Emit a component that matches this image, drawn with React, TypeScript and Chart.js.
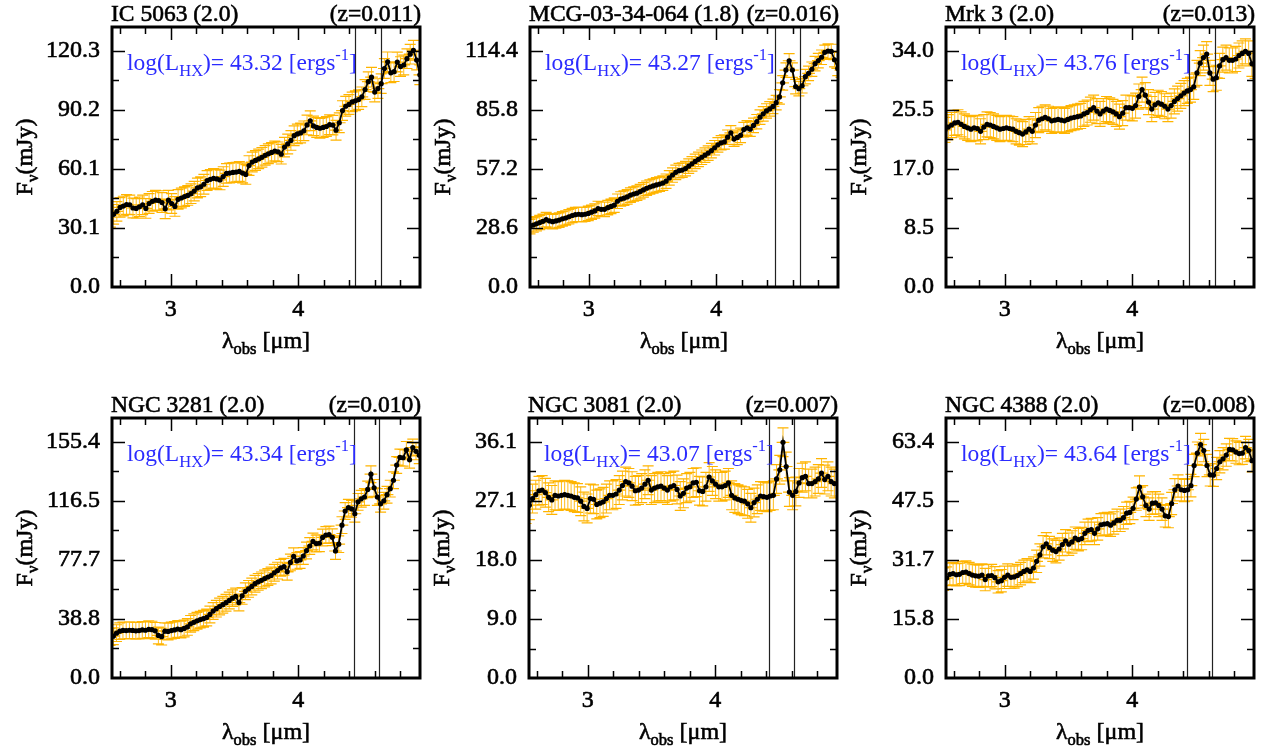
import React, { useEffect, useRef } from "react";
import { Chart, registerables } from "chart.js";

Chart.register(...registerables);

// ---------------- data ----------------
const LAMBDA_REST = [
  2.500, 2.525, 2.550, 2.575, 2.600, 2.625, 2.650, 2.675, 2.700, 2.725,
  2.750, 2.775, 2.800, 2.825, 2.850, 2.875, 2.900, 2.925, 2.950, 2.975,
  3.000, 3.025, 3.050, 3.075, 3.100, 3.125, 3.150, 3.175, 3.200, 3.225,
  3.250, 3.275, 3.300, 3.325, 3.350, 3.375, 3.400, 3.425, 3.450, 3.475,
  3.500, 3.525, 3.550, 3.575, 3.600, 3.625, 3.650, 3.675, 3.700, 3.725,
  3.750, 3.775, 3.800, 3.825, 3.850, 3.875, 3.900, 3.925, 3.950, 3.975,
  4.000, 4.025, 4.050, 4.075, 4.100, 4.125, 4.150, 4.175, 4.200, 4.225,
  4.250, 4.275, 4.300, 4.325, 4.350, 4.375, 4.400, 4.425, 4.450, 4.475,
  4.500, 4.525, 4.550, 4.575, 4.600, 4.625, 4.650, 4.675, 4.700, 4.725,
  4.750, 4.775, 4.800, 4.825, 4.850, 4.875, 4.900,
];

const NAMES = ["IC 5063 (2.0)", "MCG-03-34-064 (1.8)", "Mrk 3 (2.0)", "NGC 3281 (2.0)", "NGC 3081 (2.0)", "NGC 4388 (2.0)"];
const REDSHIFTS = [0.011, 0.016, 0.013, 0.010, 0.007, 0.008];
const LOG_LHX = ["43.32", "43.27", "43.76", "43.34", "43.07", "43.64"];

const FLUX_IC5063 = [
  35.5, 37.0, 38.5, 40.5, 41.2, 42.0, 41.8, 40.2, 40.0, 40.8,
  41.8, 40.0, 42.5, 43.6, 44.2, 44.0, 43.0, 39.8, 44.2, 42.5,
  41.0, 44.6, 45.3, 46.0, 46.6, 47.5, 48.8, 50.4, 51.0, 52.3,
  54.2, 54.8, 55.3, 55.0, 54.5, 56.2, 57.8, 58.0, 58.3, 58.5,
  58.8, 58.0, 57.3, 61.8, 63.6, 64.4, 65.2, 66.0, 67.0, 67.8,
  68.5, 69.2, 68.8, 67.6, 71.2, 72.8, 74.6, 77.0, 77.9, 78.4,
  79.5, 82.5, 84.6, 82.0, 81.2, 80.8, 81.2, 81.7, 82.6, 82.4,
  79.8, 83.6, 89.8, 92.0, 92.9, 94.2, 94.8, 95.4, 96.8, 100.5,
  104.5, 106.8, 99.2, 101.0, 103.5, 111.2, 114.6, 109.0, 109.6, 114.5,
  112.2, 113.0, 116.2, 118.5, 120.5, 115.5, 108.0,
];
const FLUX_MCG0334064 = [
  29.2, 30.0, 30.6, 31.2, 31.8, 32.6, 32.0, 31.6, 32.0, 32.4,
  33.0, 33.4, 34.0, 34.6, 35.0, 35.2, 35.0, 35.2, 35.6, 36.2,
  36.8, 38.0, 37.6, 37.6, 38.4, 39.0, 39.6, 41.5, 42.6, 43.0,
  43.6, 44.5, 45.0, 45.4, 46.2, 47.0, 47.8, 48.4, 48.9, 49.4,
  49.8, 50.3, 51.2, 52.8, 54.2, 55.5, 56.3, 56.6, 57.3, 58.5,
  59.6, 60.8, 61.8, 62.8, 63.8, 64.8, 66.0, 67.4, 68.8, 69.8,
  70.2, 72.5, 74.6, 71.6, 72.4, 73.4, 76.2, 77.0, 76.4, 78.2,
  80.0, 82.2, 83.8, 85.2, 86.2, 87.4, 89.2, 92.0, 98.8, 105.0,
  109.5, 105.0, 97.0, 96.0, 97.4, 101.8, 103.4, 105.4, 108.1, 109.6,
  111.2, 113.6, 114.2, 114.0, 110.0, 105.8, 105.0,
];
const FLUX_MRK3 = [
  22.6, 23.0, 23.3, 23.6, 23.7, 23.4, 23.1, 22.9, 22.7, 22.9,
  22.8, 22.4, 23.0, 23.4, 23.3, 23.1, 22.9, 22.7, 22.8, 22.9,
  22.8, 22.7, 22.4, 22.2, 22.0, 22.3, 22.7, 22.4, 23.3, 24.0,
  24.2, 24.4, 24.2, 23.9, 24.0, 24.1, 24.0, 23.9, 24.1, 24.3,
  24.4, 24.5, 24.6, 24.9, 25.1, 25.5, 25.8, 25.3, 24.9, 25.3,
  25.6, 25.4, 25.2, 24.9, 24.5, 25.0, 25.8, 25.8, 25.7, 26.1,
  27.4, 28.4, 27.6, 26.6, 25.6, 26.2, 26.5, 26.3, 26.0, 25.6,
  26.1, 26.7, 27.1, 27.5, 27.9, 28.2, 28.4, 28.8, 30.8, 32.2,
  33.0, 33.5, 30.8, 29.9, 30.1, 31.8, 32.7, 33.0, 32.6, 32.6,
  32.8, 33.3, 33.6, 33.9, 33.6, 32.1, 31.8,
];
const FLUX_NGC3281 = [
  27.0, 27.5, 29.5, 30.8, 31.3, 31.2, 31.4, 31.3, 31.0, 31.2,
  31.6, 31.4, 32.0, 31.8, 31.0, 28.0, 27.2, 30.8, 30.6, 31.2,
  31.6, 32.2, 31.8, 32.6, 33.6, 35.6, 36.6, 37.6, 38.4, 39.0,
  39.8, 41.8, 44.0, 45.6, 47.0, 48.2, 49.5, 51.0, 52.5, 53.6,
  49.6, 54.0, 57.0, 58.6, 60.2, 62.0, 63.2, 64.2, 65.4, 66.4,
  67.4, 69.2, 70.6, 72.4, 73.2, 69.8, 76.0, 80.0, 77.0, 77.6,
  80.2, 83.8, 86.8, 89.8, 88.4, 88.6, 92.4, 94.0, 94.3, 92.5,
  83.5, 88.0, 100.5, 109.8, 112.0, 111.2, 108.0, 115.8, 117.8, 119.0,
  124.0, 134.0, 125.0, 119.0, 114.5, 116.5, 120.5, 124.5, 130.0, 140.0,
  145.0, 144.8, 150.0, 143.5, 151.5, 149.0, 146.5,
];
const FLUX_NGC3081 = [
  25.8, 26.4, 27.4, 28.0, 28.6, 28.7, 28.3, 27.6, 27.2, 27.9,
  27.8, 27.9, 28.0, 27.9, 27.8, 27.6, 27.5, 27.0, 26.2, 25.9,
  27.4, 27.3, 26.5, 26.7, 26.9, 27.4, 27.9, 27.9, 28.1, 28.7,
  29.4, 30.0, 29.8, 29.3, 28.6, 28.7, 29.0, 29.6, 30.2, 28.7,
  29.0, 29.2, 29.3, 29.0, 28.7, 29.2, 29.4, 28.8, 27.8, 28.2,
  29.0, 29.2, 29.8, 29.9, 28.6, 28.5, 29.2, 30.7, 30.1, 29.6,
  29.2, 29.2, 29.4, 29.8, 27.9, 27.5, 27.3, 27.1, 27.0, 26.6,
  26.0, 26.8, 27.3, 27.8, 27.7, 27.6, 27.8, 27.9, 30.4, 31.8,
  36.0, 32.3, 28.4, 27.9, 28.5, 29.8, 30.6, 30.8, 29.7, 29.7,
  30.0, 30.4, 31.3, 30.3, 30.8, 30.0, 29.7,
];
const FLUX_NGC4388 = [
  26.5, 26.8, 27.8, 28.0, 27.7, 27.8, 28.3, 28.4, 28.0, 27.6,
  27.4, 27.3, 27.6, 26.4, 27.4, 27.5, 26.9, 25.8, 26.1, 27.0,
  27.6, 27.0, 27.1, 27.5, 28.0, 28.6, 29.0, 28.6, 29.5, 31.3,
  33.0, 35.2, 36.0, 35.0, 34.3, 33.9, 34.6, 35.8, 36.8, 35.9,
  36.5, 37.5, 37.1, 37.4, 38.8, 39.6, 39.8, 38.8, 40.0, 41.1,
  41.3, 41.4, 41.0, 41.6, 42.3, 42.3, 43.0, 44.2, 44.4, 45.5,
  48.0, 51.2, 48.6, 46.3, 45.3, 46.9, 47.0, 46.3, 45.3, 43.5,
  43.3, 46.8, 50.5, 51.5, 50.5, 50.3, 50.5, 51.6, 57.0, 60.3,
  62.6, 61.0, 57.0, 54.5, 54.4, 56.2, 58.0, 58.8, 59.8, 61.3,
  61.2, 60.6, 60.2, 60.3, 61.8, 61.0, 58.3,
];

// flux errors (mJy), one per panel
const FLUX_ERRORS = [5.0, 3.5, 1.8, 5.5, 2.2, 3.0];
const LAMBDA_ERROR = 0.05;

const YTICKS_IC5063 = [0, 30.1, 60.1, 90.2, 120.3];
const YTICKS_MCG0334064 = [0, 28.6, 57.2, 85.8, 114.4];
const YTICKS_MRK3 = [0, 8.5, 17.0, 25.5, 34.0];
const YTICKS_NGC3281 = [0, 38.8, 77.7, 116.5, 155.4];
const YTICKS_NGC3081 = [0, 9.0, 18.0, 27.1, 36.1];
const YTICKS_NGC4388 = [0, 15.8, 31.7, 47.5, 63.4];

const X_MIN = 2.54;
const X_MAX = 4.955;
const X_TICKS_MAJOR = [3, 4];
const X_TICKS_MINOR = [2.6, 2.8, 3.2, 3.4, 3.6, 3.8, 4.2, 4.4, 4.6, 4.8];

// observed wavelengths of the two vertical marker lines per panel
const MARKER_LINES = [
  [4.446, 4.650],
  [4.462, 4.658],
  [4.448, 4.650],
  [4.440, 4.636],
  [4.425, 4.621],
  [4.428, 4.624],
];

const FLUXES = [FLUX_IC5063, FLUX_MCG0334064, FLUX_MRK3, FLUX_NGC3281, FLUX_NGC3081, FLUX_NGC4388];
const YTICKS = [YTICKS_IC5063, YTICKS_MCG0334064, YTICKS_MRK3, YTICKS_NGC3281, YTICKS_NGC3081, YTICKS_NGC4388];

// ---------------- layout / style ----------------
const FRAMES = [
  { left: 112, top: 27 },
  { left: 530, top: 27 },
  { left: 946, top: 27 },
  { left: 112, top: 418 },
  { left: 529, top: 418 },
  { left: 946, top: 418 },
];
const FW = 308;
const FH = 260;
const PAD_L = 110;
const PAD_T = 27;
const PAD_R = 14;
const PAD_B = 76;
const CW = PAD_L + FW + PAD_R;
const CH = PAD_T + FH + PAD_B;

const FONT = '"Liberation Serif", "Times New Roman", serif';
const FS = 23.5;
const FS_TICK = 24;
const FS_SMALL = 16.5;
const ORANGE = "#FFB400";
const BLUE = "#2B2BFF";
const TEXT_STROKE = 0.6;

type Part = { t: string; s: number; dy: number };

function richWidth(ctx: CanvasRenderingContext2D, parts: Part[]) {
  let w = 0;
  for (const p of parts) {
    ctx.font = `${p.s}px ${FONT}`;
    w += ctx.measureText(p.t).width;
  }
  return w;
}
function drawRich(ctx: CanvasRenderingContext2D, x: number, y: number, parts: Part[], stroke: number) {
  let cx = x;
  for (const p of parts) {
    ctx.font = `${p.s}px ${FONT}`;
    ctx.fillText(p.t, cx, y + p.dy);
    if (stroke > 0) {
      ctx.lineWidth = stroke;
      ctx.strokeText(p.t, cx, y + p.dy);
    }
    cx += ctx.measureText(p.t).width;
  }
}

function Panel({ idx }: { idx: number }) {
  const ref = useRef<HTMLCanvasElement>(null);
  useEffect(() => {
    const canvas = ref.current!;
    const z = REDSHIFTS[idx];
    const flux = FLUXES[idx];
    const lambda = LAMBDA_REST.map((l) => l * (1 + z));
    const yTicks = YTICKS[idx];
    const yTop = yTicks[yTicks.length - 1];
    const yMax = yTop * 1.1;
    const err = FLUX_ERRORS[idx];
    const lines = MARKER_LINES[idx];

    const decor = {
      id: "decor" + idx,
      beforeDatasetsDraw(chart: any) {
        const { ctx, chartArea: a, scales } = chart;
        const xs = scales.x;
        const ys = scales.y;
        ctx.save();
        ctx.beginPath();
        ctx.rect(a.left, a.top, a.right - a.left, a.bottom - a.top);
        ctx.clip();
        ctx.strokeStyle = ORANGE;
        const cap = 5.5;
        // vertical parts of the flux error bars
        ctx.lineWidth = 0.9;
        ctx.beginPath();
        lambda.forEach((l, i) => {
          const v = flux[i];
          const px = xs.getPixelForValue(l);
          ctx.moveTo(px, ys.getPixelForValue(v + err));
          ctx.lineTo(px, ys.getPixelForValue(v - err));
        });
        ctx.stroke();
        // caps and wavelength error bars
        ctx.lineWidth = 1.2;
        ctx.beginPath();
        lambda.forEach((l, i) => {
          const v = flux[i];
          const px = xs.getPixelForValue(l);
          const py = ys.getPixelForValue(v);
          const y1 = ys.getPixelForValue(v + err);
          const y2 = ys.getPixelForValue(v - err);
          const x1 = xs.getPixelForValue(l - LAMBDA_ERROR);
          const x2 = xs.getPixelForValue(l + LAMBDA_ERROR);
          ctx.moveTo(px - cap, y1);
          ctx.lineTo(px + cap, y1);
          ctx.moveTo(px - cap, y2);
          ctx.lineTo(px + cap, y2);
          ctx.moveTo(x1, py);
          ctx.lineTo(x2, py);
        });
        ctx.stroke();
        ctx.strokeStyle = "#222";
        ctx.lineWidth = 1.2;
        ctx.beginPath();
        for (const l of lines) {
          const px = Math.round(xs.getPixelForValue(l)) + 0.5;
          ctx.moveTo(px, a.top);
          ctx.lineTo(px, a.bottom);
        }
        ctx.stroke();
        ctx.restore();
      },
      afterDraw(chart: any) {
        const { ctx, chartArea: a, scales } = chart;
        const xs = scales.x;
        const ys = scales.y;
        ctx.save();
        // ticks (inward, all four sides)
        ctx.strokeStyle = "#000";
        ctx.lineWidth = 1.5;
        ctx.beginPath();
        const major = 13;
        const minor = 7;
        const xt = [
          ...X_TICKS_MAJOR.map((v) => [v, major]),
          ...X_TICKS_MINOR.map((v) => [v, minor]),
        ];
        for (const [v, len] of xt) {
          const px = Math.round(xs.getPixelForValue(v)) + 0.5;
          ctx.moveTo(px, a.bottom);
          ctx.lineTo(px, a.bottom - len);
          ctx.moveTo(px, a.top);
          ctx.lineTo(px, a.top + len);
        }
        const yt: number[][] = [];
        for (let i = 1; i < yTicks.length; i++) yt.push([yTicks[i], major]);
        for (let i = 0; i < yTicks.length - 1; i++) yt.push([(yTicks[i] + yTicks[i + 1]) / 2, minor]);
        for (const [v, len] of yt) {
          const py = Math.round(ys.getPixelForValue(v)) + 0.5;
          ctx.moveTo(a.left, py);
          ctx.lineTo(a.left + len, py);
          ctx.moveTo(a.right, py);
          ctx.lineTo(a.right - len, py);
        }
        ctx.stroke();
        // frame
        ctx.lineWidth = 3;
        ctx.strokeRect(a.left, a.top, a.right - a.left, a.bottom - a.top);

        // titles
        ctx.fillStyle = "#000";
        ctx.strokeStyle = "#000";
        ctx.textBaseline = "alphabetic";
        ctx.font = `${FS}px ${FONT}`;
        ctx.lineWidth = TEXT_STROKE;
        ctx.textAlign = "left";
        ctx.fillText(NAMES[idx], a.left - 1, a.top - 6);
        ctx.strokeText(NAMES[idx], a.left - 1, a.top - 6);
        ctx.textAlign = "right";
        const zText = `(z=${z.toFixed(3)})`;
        ctx.fillText(zText, a.right + 1, a.top - 6);
        ctx.strokeText(zText, a.right + 1, a.top - 6);
        ctx.textAlign = "left";

        // annotation
        ctx.fillStyle = BLUE;
        drawRich(
          ctx,
          a.left + 15,
          a.top + 43,
          [
            { t: "log(L", s: FS, dy: 0 },
            { t: "HX", s: FS_SMALL, dy: 6 },
            { t: `)= ${LOG_LHX[idx]} [ergs`, s: FS, dy: 0 },
            { t: "-1", s: FS_SMALL, dy: -10 },
            { t: "]", s: FS, dy: 0 },
          ],
          0
        );

        // axis titles
        ctx.fillStyle = "#000";
        ctx.strokeStyle = "#000";
        const xParts: Part[] = [
          { t: "λ", s: FS_TICK, dy: 0 },
          { t: "obs", s: FS_SMALL, dy: 6 },
          { t: " [μm]", s: FS_TICK, dy: 0 },
        ];
        const xw = richWidth(ctx, xParts);
        drawRich(ctx, (a.left + a.right) / 2 - xw / 2, a.bottom + 61, xParts, TEXT_STROKE);

        const yParts: Part[] = [
          { t: "F", s: FS_TICK, dy: 0 },
          { t: "ν", s: FS_SMALL, dy: 6 },
          { t: "(mJy)", s: FS_TICK, dy: 0 },
        ];
        const yw = richWidth(ctx, yParts);
        ctx.translate(a.left - 80, (a.top + a.bottom) / 2);
        ctx.rotate(-Math.PI / 2);
        drawRich(ctx, -yw / 2, 0, yParts, TEXT_STROKE);
        ctx.restore();
      },
    };

    const chart = new Chart(canvas, {
      type: "line",
      data: {
        datasets: [
          {
            data: lambda.map((l, i) => ({ x: l, y: flux[i] })),
            borderColor: "#000",
            borderWidth: 1.8,
            pointRadius: 2.6,
            pointBackgroundColor: "#000",
            pointBorderWidth: 0,
            pointHoverRadius: 2.6,
            tension: 0,
            clip: 0,
          } as any,
        ],
      },
      options: {
        responsive: false,
        animation: false,
        devicePixelRatio: 1,
        events: [],
        layout: { padding: { left: 0, top: PAD_T, right: PAD_R, bottom: 0 } },
        plugins: { legend: { display: false }, tooltip: { enabled: false } },
        scales: {
          x: {
            type: "linear",
            min: X_MIN,
            max: X_MAX,
            grid: { display: false, drawTicks: false },
            border: { display: false },
            afterFit: (s: any) => {
              s.height = PAD_B;
            },
            afterBuildTicks: (s: any) => {
              s.ticks = X_TICKS_MAJOR.map((v) => ({ value: v }));
            },
            ticks: {
              autoSkip: false,
              maxRotation: 0,
              padding: 8,
              color: "#000",
              textStrokeColor: "#000",
              textStrokeWidth: TEXT_STROKE,
              font: { family: FONT, size: FS_TICK },
              callback: (v: any) => String(v),
            },
          },
          y: {
            type: "linear",
            min: 0,
            max: yMax,
            grid: { display: false, drawTicks: false },
            border: { display: false },
            afterFit: (s: any) => {
              s.width = PAD_L;
            },
            afterBuildTicks: (s: any) => {
              s.ticks = yTicks.map((v) => ({ value: v }));
            },
            ticks: {
              autoSkip: false,
              padding: 12,
              color: "#000",
              textStrokeColor: "#000",
              textStrokeWidth: TEXT_STROKE,
              font: { family: FONT, size: FS_TICK },
              callback: (v: any) => Number(v).toFixed(1),
            },
          },
        },
      } as any,
      plugins: [decor as any],
    });
    return () => chart.destroy();
  }, [idx]);

  const f = FRAMES[idx];
  return (
    <canvas
      ref={ref}
      width={CW}
      height={CH}
      style={{ position: "absolute", left: f.left - PAD_L, top: f.top - PAD_T, width: CW, height: CH }}
    />
  );
}

export default function App() {
  return (
    <div style={{ position: "absolute", left: 0, top: 0, width: 1270, height: 756, background: "#fff", overflow: "hidden" }}>
      {[0, 1, 2, 3, 4, 5].map((i) => (
        <Panel key={i} idx={i} />
      ))}
    </div>
  );
}
